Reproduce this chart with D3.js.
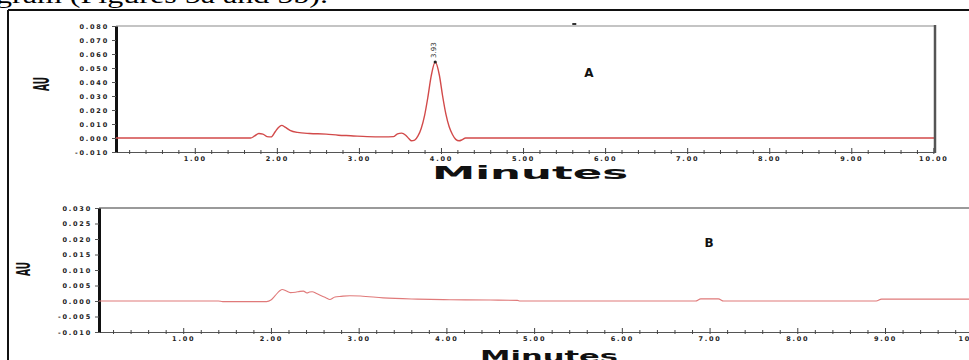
<!DOCTYPE html>
<html>
<head>
<meta charset="utf-8">
<script src="https://cdn.jsdelivr.net/npm/d3@7"></script>
<style>
  html, body { margin: 0; padding: 0; background: #fff; overflow: hidden; }
  svg { display: block; }
  .tick text { font-family: "DejaVu Sans", sans-serif; font-weight: bold; font-size: 6.5px; letter-spacing: 1.8px; fill: #222; }
</style>
</head>
<body>
<svg id="fig" width="969" height="360"></svg>
<script>
// ---- Chromatogram A (standard) ----
const timeA = [0.04, 1.68, 1.73, 1.78, 1.83, 1.88, 1.93, 1.98, 2.02, 2.06, 2.10, 2.16, 2.25, 2.40, 2.60, 2.75, 2.90, 3.10, 3.30, 3.42, 3.47, 3.52, 3.57, 3.61, 3.64, 3.68, 3.72, 3.76, 3.80, 3.84, 3.88, 3.93, 3.98, 4.02, 4.06, 4.10, 4.14, 4.18, 4.22, 4.26, 4.30, 10.02];
const auA   = [0.0000, 0.0000, 0.0015, 0.0032, 0.0028, 0.0010, 0.0008, 0.0045, 0.0075, 0.0090, 0.0078, 0.0055, 0.0040, 0.0032, 0.0028, 0.0020, 0.0016, 0.0010, 0.0008, 0.0010, 0.0030, 0.0035, 0.0020, -0.0005, -0.0020, -0.0015, 0.0015, 0.0070, 0.0160, 0.0290, 0.0440, 0.0543, 0.0450, 0.0300, 0.0170, 0.0080, 0.0025, -0.0010, -0.0020, -0.0012, 0.0000, 0.0000];
const peakTimeA = 3.93;
const peakAuA = 0.0543;

// ---- Chromatogram B (blank) ----
const timeB = [0.04, 1.40, 1.45, 1.95, 2.00, 2.05, 2.10, 2.13, 2.17, 2.22, 2.28, 2.33, 2.37, 2.41, 2.44, 2.47, 2.52, 2.58, 2.63, 2.67, 2.73, 2.80, 2.90, 3.02, 3.28, 3.67, 4.04, 4.50, 4.81, 4.84, 6.84, 6.90, 7.10, 7.16, 8.90, 8.96, 10.02];
const auB   = [0.0000, 0.0000, -0.0002, -0.0002, 0.0003, 0.0018, 0.0033, 0.0037, 0.0033, 0.0027, 0.0028, 0.0031, 0.0032, 0.0026, 0.0029, 0.0030, 0.0024, 0.0016, 0.0010, 0.0005, 0.0013, 0.0015, 0.0017, 0.0016, 0.0010, 0.0006, 0.0004, 0.0003, 0.0002, 0.0000, 0.0000, 0.0007, 0.0007, 0.0000, 0.0000, 0.0006, 0.0006];

// ---- Axis ticks ----
const xMajorTicks = [1, 2, 3, 4, 5, 6, 7, 8, 9, 10];
const xMajorLabels = ["1.00", "2.00", "3.00", "4.00", "5.00", "6.00", "7.00", "8.00", "9.00", "10.00"];
const xMinorTicks = [0.2, 0.4, 0.6, 0.8, 1.2, 1.4, 1.6, 1.8, 2.2, 2.4, 2.6, 2.8, 3.2, 3.4, 3.6, 3.8, 4.2, 4.4, 4.6, 4.8, 5.2, 5.4, 5.6, 5.8, 6.2, 6.4, 6.6, 6.8, 7.2, 7.4, 7.6, 7.8, 8.2, 8.4, 8.6, 8.8, 9.2, 9.4, 9.6, 9.8];
const yTicksA = [0.080, 0.070, 0.060, 0.050, 0.040, 0.030, 0.020, 0.010, 0.000, -0.010];
const yLabelsA = ["0.080", "0.070", "0.060", "0.050", "0.040", "0.030", "0.020", "0.010", "0.000", "-0.010"];
const yTicksB = [0.030, 0.025, 0.020, 0.015, 0.010, 0.005, 0.000, -0.005, -0.010];
const yLabelsB = ["0.030", "0.025", "0.020", "0.015", "0.010", "0.005", "0.000", "-0.005", "-0.010"];

const svg = d3.select("#fig");

// running text line above the figure (cut by the top edge)
svg.append("text")
  .attr("x", -4).attr("y", 3)
  .attr("font-family", "Liberation Serif, serif")
  .attr("font-size", 24)
  .attr("textLength", 332).attr("lengthAdjust", "spacingAndGlyphs")
  .attr("fill", "#000")
  .text("gram (Figures 5a and 5b).");

// figure frame
svg.append("line").attr("x1", 8).attr("x2", 969).attr("y1", 10).attr("y2", 10)
  .attr("stroke", "#111").attr("stroke-width", 2);
svg.append("line").attr("x1", 8).attr("x2", 8).attr("y1", 10).attr("y2", 360)
  .attr("stroke", "#111").attr("stroke-width", 2);

function panel(cfg) {
  const g = svg.append("g");
  const x = d3.scaleLinear().domain([0.04, 10.02]).range([cfg.left, cfg.right]);
  const y = d3.scaleLinear().domain(cfg.yDomain).range([cfg.bottom, cfg.top]);

  // top border line of plot
  g.append("line").attr("x1", cfg.left).attr("x2", cfg.topLineEnd)
    .attr("y1", cfg.top).attr("y2", cfg.top)
    .attr("stroke", cfg.topColor).attr("stroke-width", 2);

  // x axis: minor ticks
  g.append("g").attr("transform", `translate(0,${cfg.bottom})`)
    .call(d3.axisBottom(x).tickValues(xMinorTicks).tickSize(2).tickSizeOuter(0).tickFormat(""))
    .call(a => a.select(".domain").attr("stroke", "#555").attr("stroke-width", 1.2))
    .call(a => a.selectAll(".tick line").attr("stroke", "#444").attr("y1", -2).attr("y2", 2));

  // x axis: major ticks with labels
  g.append("g").attr("transform", `translate(0,${cfg.bottom})`)
    .call(d3.axisBottom(x).tickValues(xMajorTicks).tickSize(2).tickSizeOuter(0)
      .tickFormat((d, i) => xMajorLabels[i]).tickPadding(2))
    .call(a => a.select(".domain").remove())
    .call(a => a.selectAll(".tick line").attr("stroke", "#444").attr("y1", -4).attr("y2", 2));

  // y axis
  g.append("g").attr("transform", `translate(${cfg.left},0)`)
    .call(d3.axisLeft(y).tickValues(cfg.yTicks).tickSize(4).tickSizeOuter(0)
      .tickFormat((d, i) => cfg.yLabels[i]).tickPadding(3))
    .call(a => a.select(".domain").attr("stroke", "#111").attr("stroke-width", 3))
    .call(a => a.selectAll(".tick line").attr("stroke", "#555"));

  // trace
  const line = d3.line().x((d, i) => x(cfg.t[i])).y(d => y(d)).curve(d3.curveMonotoneX);
  g.append("path").datum(cfg.v)
    .attr("d", line)
    .attr("fill", "none")
    .attr("stroke", cfg.lineColor)
    .attr("stroke-width", cfg.lineWidth)
    .attr("stroke-linejoin", "round");

  // y axis title
  g.append("text")
    .attr("transform", `translate(${cfg.auX},${cfg.auY}) rotate(-90)`)
    .attr("text-anchor", "middle")
    .attr("dominant-baseline", "central")
    .attr("font-family", "DejaVu Sans, sans-serif")
    .attr("font-weight", "bold")
    .attr("font-size", cfg.auSize)
    .attr("textLength", 14).attr("lengthAdjust", "spacingAndGlyphs")
    .attr("fill", "#111")
    .text("AU");

  // x axis title
  g.append("text")
    .attr("x", cfg.minX).attr("y", cfg.minY)
    .attr("font-family", "DejaVu Sans, sans-serif")
    .attr("font-weight", "bold")
    .attr("font-size", cfg.minSize)
    .attr("textLength", cfg.minLen).attr("lengthAdjust", "spacingAndGlyphs")
    .attr("fill", "#111")
    .text("Minutes");

  // panel letter
  g.append("text")
    .attr("x", cfg.letterX).attr("y", cfg.letterY)
    .attr("text-anchor", "middle")
    .attr("font-family", "DejaVu Sans, sans-serif")
    .attr("font-weight", "bold")
    .attr("font-size", 12)
    .attr("fill", "#111")
    .text(cfg.letter);

  return { g, x, y };
}

const A = panel({
  left: 116, right: 935, top: 26, bottom: 152, topLineEnd: 935, topColor: "#c4c4c4",
  yDomain: [-0.010, 0.080], yTicks: yTicksA, yLabels: yLabelsA,
  t: timeA, v: auA, lineColor: "#d24a4a", lineWidth: 1.4,
  auX: 41, auY: 84, auSize: 22,
  minX: 432, minY: 179, minSize: 18.5, minLen: 196,
  letter: "A", letterX: 589, letterY: 77
});

// right border of panel A
A.g.append("line").attr("x1", 935).attr("x2", 935).attr("y1", 25).attr("y2", 153)
  .attr("stroke", "#555").attr("stroke-width", 2.5);

// small event mark on top border
A.g.append("rect").attr("x", A.x(5.6)).attr("y", 23).attr("width", 4).attr("height", 2).attr("fill", "#333");

// peak apex and retention time label
A.g.append("circle").attr("cx", A.x(peakTimeA)).attr("cy", A.y(peakAuA)).attr("r", 1.6).attr("fill", "#222");
A.g.append("text")
  .attr("transform", `translate(${A.x(peakTimeA) - 1},${A.y(peakAuA) - 4}) rotate(-90)`)
  .attr("font-family", "DejaVu Sans, sans-serif")
  .attr("font-size", 7)
  .attr("dominant-baseline", "central")
  .attr("fill", "#333")
  .text(d3.format(".2f")(peakTimeA));

const B = panel({
  left: 99, right: 974.5, top: 208, bottom: 332, topLineEnd: 969, topColor: "#9a9a9a",
  yDomain: [-0.010, 0.030], yTicks: yTicksB, yLabels: yLabelsB,
  t: timeB, v: auB, lineColor: "#e07a7a", lineWidth: 1.1,
  auX: 23, auY: 269, auSize: 20,
  minX: 480, minY: 362, minSize: 15, minLen: 138,
  letter: "B", letterX: 709, letterY: 247
});
</script>
</body>
</html>
